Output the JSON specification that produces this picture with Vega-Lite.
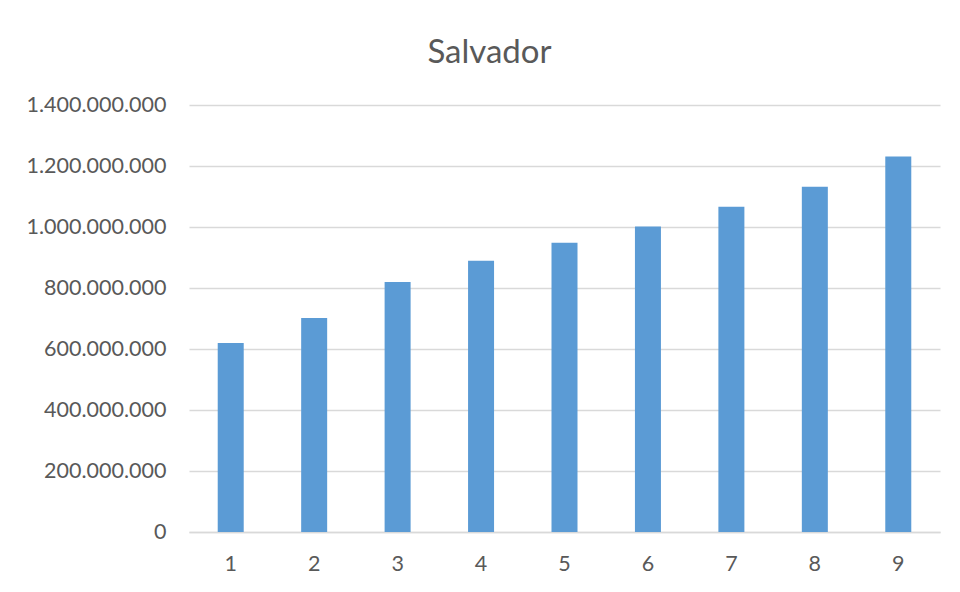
{
  "$schema": "https://vega.github.io/schema/vega-lite/v6.json",
  "autosize": "none",
  "width": 751,
  "height": 427,
  "padding": {"left": 189, "top": 105, "right": 20, "bottom": 60},
  "background": "white",
  "title": {
    "text": "Salvador",
    "font": "Lato",
    "fontSize": 33,
    "fontWeight": "normal",
    "color": "#595959",
    "anchor": "middle",
    "frame": "group",
    "dx": -75,
    "baseline": "alphabetic",
    "offset": -2
  },
  "data": {
    "values": [
      {"periodo": 1, "valor": 620000000},
      {"periodo": 2, "valor": 702000000},
      {"periodo": 3, "valor": 820000000},
      {"periodo": 4, "valor": 889000000},
      {"periodo": 5, "valor": 948000000},
      {"periodo": 6, "valor": 1002000000},
      {"periodo": 7, "valor": 1066000000},
      {"periodo": 8, "valor": 1132000000},
      {"periodo": 9, "valor": 1231000000}
    ]
  },
  "mark": {"type": "bar", "width": 26, "color": "#5B9BD5"},
  "encoding": {
    "x": {
      "field": "periodo",
      "type": "ordinal",
      "scale": {"paddingInner": 0, "paddingOuter": 0},
      "axis": {
        "title": null,
        "labelAngle": 0,
        "labelFont": "Lato",
        "labelFontSize": 21.5,
        "labelColor": "#595959",
        "labelPadding": 21,
        "ticks": false,
        "domainColor": "#d9d9d9",
        "domainWidth": 1.5,
        "grid": false
      }
    },
    "y": {
      "field": "valor",
      "type": "quantitative",
      "scale": {"domain": [0, 1400000000], "nice": false},
      "axis": {
        "title": null,
        "values": [0, 200000000, 400000000, 600000000, 800000000, 1000000000, 1200000000, 1400000000],
        "format": ",d",
        "labelFont": "Lato",
        "labelFontSize": 21.5,
        "labelColor": "#595959",
        "labelPadding": 23,
        "ticks": false,
        "domain": false,
        "grid": true,
        "gridColor": "#d9d9d9",
        "gridWidth": 1.5
      }
    }
  },
  "config": {
    "view": {"stroke": null},
    "locale": {
      "number": {
        "decimal": ",",
        "thousands": ".",
        "grouping": [3],
        "currency": ["", ""]
      }
    }
  }
}
